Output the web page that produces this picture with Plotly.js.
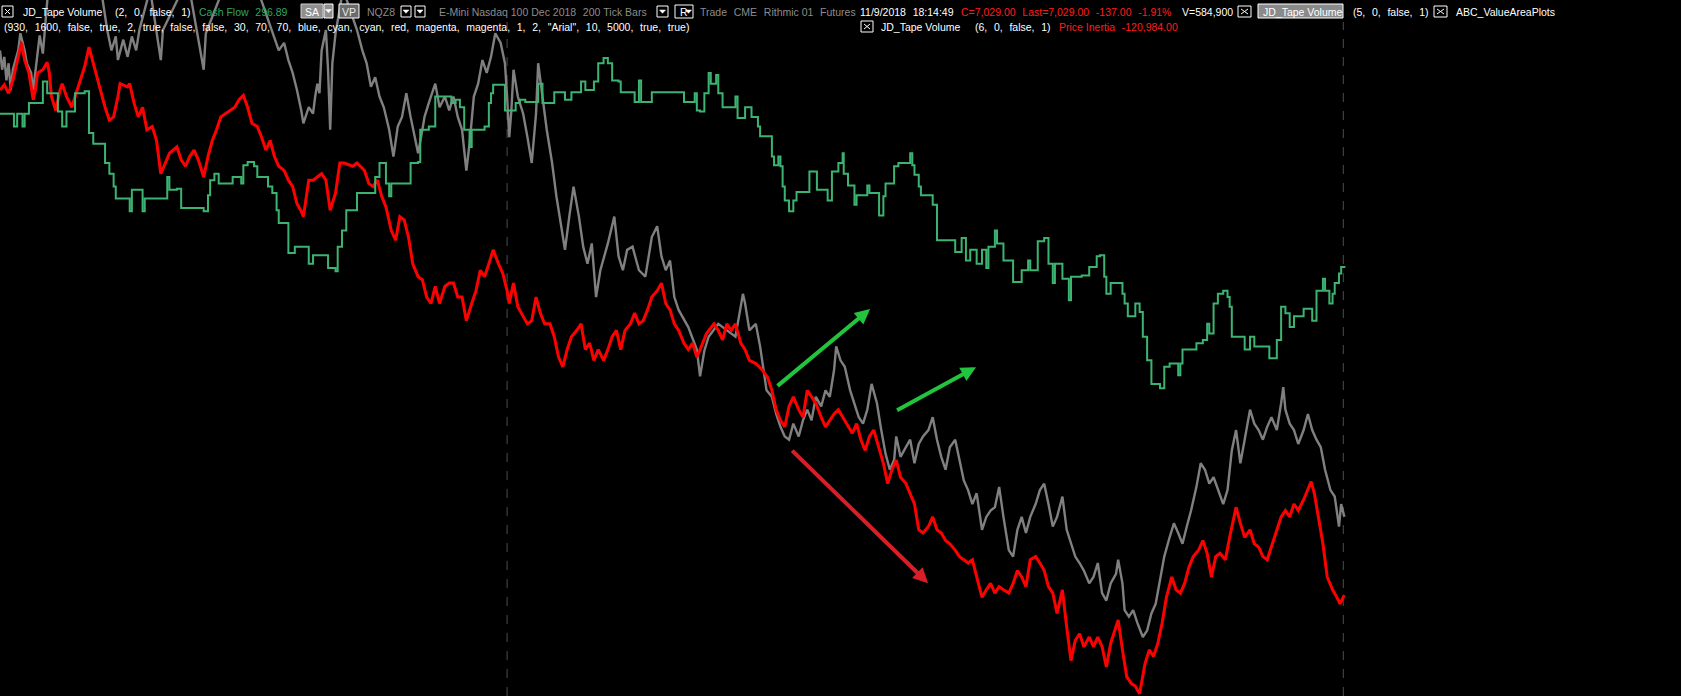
<!DOCTYPE html>
<html><head><meta charset="utf-8">
<script src="https://cdn.plot.ly/plotly-3.0.1.min.js"></script>
<style>html,body{margin:0;padding:0;background:#000;overflow:hidden}#chart{width:1681px;height:696px}</style>
</head><body><div id="chart"></div>
<script>
// ---- NQZ8 200-tick bars: price (gray) ----
const priceBar = [0,2,4,6,8,10,12,17,19,23,
25,29,31,33,35,37,40,45,55,70,
85,95,100,104,108,110,115,119,123,127,
130,140,150,152,175,190,192,210,235,256,
260,265,269,273,277,281,283,288,292,294,
296,298,300,304,306,308,310,313,320,333,
338,342,346,350,354,358,363,367,369,371,
375,379,383,388,390,394,396,400,406,410,
415,419,423,427,431,435,438,442,446,450,
454,458,462,467,471,473,475,477,479,483,
488,492,496,500,502,506,510,515,519,523,
527,531,535,540,544,548,552,556,560,567,
573,577,581,585,590,596,602,608,613,617,
621,625,629,633,642,650,653,657,661,670,
678,686,693,695,699,705,709,713,715,720,
724,728,732,736,740,745,749,753,757,761,
766,770,774,778,780,784,788,793,797,801,
805,809,813,818,822,826,830,834,836,840,
845,849,853,857,861,866,870,874,878,882,
886,891,895,899,903,907,911,916,920,924,
928,932,936,941,945,949,953,957,961,966,
970,974,978,982,986,991,995,999,1003,1007,
1011,1016,1020,1024,1028,1032,1036,1041,1043,1047,
1049,1053,1057,1061,1066,1070,1074,1078,1082,1086,
1091,1095,1099,1103,1107,1111,1116,1120,1124,1128,
1132,1136,1141,1145,1149,1153,1157,1161,1166,1170,
1174,1178,1182,1186,1191,1195,1197,1199,1203,1207,
1211,1216,1220,1224,1228,1232,1236,1241,1245,1249,
1251,1254];
const priceClose = [7246.5,7237.5,7243.5,7232.5,7240.5,7228,7237.5,7246.5,7254.5,7246.5,
7240.5,7236,7228,7237.5,7246.5,7253.5,7245,7275,7285,7277.5,
7282.5,7272.5,7256,7246.5,7253,7242,7251.5,7243.5,7253,7246.5,
7256,7275,7242,7256,7280,7237.5,7254.5,7277.5,7282.5,7253,
7246.5,7250,7242,7236,7228,7218.5,7212.5,7220,7217,7225,
7231,7226.5,7246.5,7256,7237.5,7209.5,7240.5,7254.5,7275,7256,
7246.5,7240.5,7229.5,7234,7225,7220,7209.5,7197,7204.5,7211,
7215.5,7226.5,7215.5,7203,7198.5,7209.5,7215.5,7222,7231,7220,
7225,7218.5,7225,7215.5,7209.5,7190.5,7203,7225,7231,7242,
7236,7243.5,7254.5,7250,7240.5,7225,7206,7218.5,7237.5,7225,
7217,7206,7194,7217,7240.5,7225,7209.5,7194,7178.5,7166,
7153.5,7169,7183,7169,7155,7147,7156.5,7131.5,7144,7156.5,
7169,7150.5,7144,7153.5,7155,7144,7141,7159.5,7164.5,7150.5,
7144,7148.5,7131.5,7125.5,7117.5,7107,7094.5,7106.5,7113,7119,
7116,7113,7133,7128.5,7116,7119,7108.5,7094.5,7088,7085,
7077,7071,7066.5,7065,7072.5,7066.5,7074,7079,7074,7085,
7080.5,7088,7085,7097.5,7108.5,7102,7099,7088,7082,7075.5,
7072.5,7079,7091,7082,7069.5,7058.5,7051,7055.5,7066.5,7057,
7061.5,7065,7054,7063,7066.5,7069.5,7075.5,7065,7057,7051,
7061.5,7065,7055.5,7046,7041.5,7035,7040,7023,7029,7032,
7033.5,7043,7029,7013.5,7010.5,7023,7029,7021.5,7029,7035,
7041.5,7044.5,7035,7024.5,7029,7038.5,7023,7016.5,7010.5,7007.5,
7004,6998,7001,7007.5,6993.5,6990,6998,7002.5,7009,6998,
6985.5,6982.5,6985.5,6979.5,6973,6976,6984,6988.5,6999.5,7010.5,
7019.5,7026,7021.5,7016.5,7024.5,7032,7043,7054,7051,7044.5,
7047.5,7041.5,7035,7041.5,7060,7069.5,7054,7065,7079,7072.5,
7069.5,7065,7071,7075.5,7069.5,7082,7089.5,7079,7072.5,7069.5,
7063,7069.5,7077,7069.5,7065,7061.5,7051,7041.5,7038.5,7024.5,
7035,7029];

// ---- JD_Tape Volume (6,0,false,1): Price Inertia (red) ----
const inertiaBar = [0,4,8,12,17,20,23,27,31,33,
35,40,44,46,48,52,56,58,62,67,
71,75,79,83,87,92,98,102,106,110,
112,119,121,125,129,133,137,142,146,150,
154,158,165,169,173,177,181,185,190,194,
198,202,206,210,215,219,223,227,231,235,
240,244,248,252,256,260,265,269,273,277,
281,283,288,292,300,304,308,313,317,321,
329,333,340,344,348,352,356,360,365,369,
373,377,381,385,390,394,398,402,406,410,
415,419,423,427,431,435,440,444,448,452,
456,460,465,469,473,475,479,483,488,492,
496,500,504,508,513,517,521,525,529,533,
538,542,546,550,554,558,563,567,571,575,
579,583,588,592,596,600,604,608,613,617,
621,625,629,633,638,642,646,650,653,659,
666,670,674,678,682,686,691,695,699,705,
711,716,720,724,728,732,736,740,745,749,
753,757,761,766,770,774,778,782,786,791,
795,799,803,807,811,815,820,824,828,832,
836,840,845,849,853,857,861,866,870,874,
878,882,886,891,895,899,903,907,911,916,
920,924,928,932,936,941,945,949,953,957,
961,966,970,974,978,982,986,991,995,999,
1003,1007,1011,1016,1020,1024,1028,1032,1036,1043,
1047,1051,1055,1059,1063,1068,1072,1076,1080,1084,
1088,1093,1097,1101,1105,1109,1113,1118,1122,1126,
1130,1134,1138,1143,1147,1151,1153,1157,1161,1166,
1170,1174,1178,1182,1186,1191,1195,1199,1203,1207,
1211,1216,1220,1223,1226,1230,1234,1238,1243,1247,
1250,1254];
const priceInertia = [67400,69400,66200,71000,79800,85000,78600,73800,63800,67400,
73800,75000,77800,73800,65000,59800,67400,69800,65000,61000,
66200,71000,76200,83400,77400,69800,61000,56200,57400,65000,
69800,68600,69800,62600,57400,61000,52600,53800,48600,36200,
40200,43800,46200,41400,39000,42600,45000,41400,35000,42600,
48600,52600,57400,58600,59800,61000,63800,65400,61000,55000,
53800,49800,45000,48600,42600,39000,37400,33800,31400,25000,
22200,20200,33800,33800,36200,33800,22600,29000,40200,40200,
39000,40200,37400,32600,31400,33800,27800,23800,15000,11400,
20200,19000,12600,2600,-2200,-3400,-9800,-12200,-5800,-12200,
-5800,-4600,-4600,-9800,-9800,-18600,-12200,-7400,200,-2200,
2600,7800,2600,-1000,-7400,-12200,-4600,-13400,-17000,-19800,
-18600,-9800,-15800,-19800,-19800,-24600,-32200,-35800,-29400,-24600,
-22200,-19800,-29400,-27000,-33400,-29400,-33400,-29400,-24600,-22200,
-29400,-22200,-19800,-15800,-19800,-18600,-14600,-9800,-7400,-4600,
-12200,-14600,-19800,-22200,-27000,-29400,-27000,-32200,-29400,-23400,
-19800,-22200,-25800,-19800,-22200,-19800,-27000,-29400,-33400,-34600,
-37000,-39800,-44600,-51800,-55800,-58200,-50600,-47000,-51800,-54600,
-44600,-47000,-49400,-54600,-58200,-55800,-53400,-51800,-54600,-58200,
-60600,-57000,-63000,-67000,-61800,-59400,-65800,-71800,-79400,-74200,
-70600,-77000,-79400,-83000,-87000,-96600,-97800,-95400,-91800,-96600,
-97800,-100600,-101800,-104200,-106600,-107800,-109000,-107800,-114200,-121800,
-119000,-116600,-120200,-117800,-119000,-120200,-116600,-111800,-114200,-117800,
-107800,-106600,-109000,-111800,-117800,-120200,-127800,-119000,-133000,-145400,
-137800,-135400,-140200,-136600,-140200,-136600,-140200,-147800,-139000,-130200,
-141400,-151400,-153800,-155000,-157800,-146600,-141400,-143800,-139000,-131400,
-121800,-114200,-119000,-120200,-116600,-110600,-106600,-104200,-100600,-105400,
-114200,-106600,-105400,-107800,-99400,-91800,-88200,-94200,-99400,-96600,
-101800,-103000,-106600,-107800,-103000,-96600,-91800,-89400,-91800,-87000,
-89400,-85400,-81800,-78600,-83000,-91800,-101800,-114200,-119000,-121800,
-124200,-120984];

// ---- JD_Tape Volume (2,0,false,1): Cash Flow (green, stepped) ----
const cashFlowBar = [0,13,16,21,23,27,40,44,54,58,
62,70,79,83,87,98,102,106,108,121,
123,133,135,156,158,165,169,190,194,196,
200,204,217,225,227,231,237,240,250,254,
258,260,269,275,288,292,306,313,315,319,
323,333,350,354,360,363,365,383,390,392,
400,406,421,425,429,433,438,440,452,456,
458,460,471,481,485,490,502,506,517,527,
533,542,546,554,558,563,567,571,577,579,
592,596,598,608,638,648,650,653,657,661,
663,668,670,674,686,688,695,701,707,709,
720,722,726,728,730,732,736,740,743,755,
762,772,776,782,786,787,791,797,799,809,
811,820,824,826,834,838,849,851,853,857,
859,870,874,891,897,901,905,911,916,920,
922,928,930,936,945,953,959,961,968,974,
978,982,984,991,997,999,1009,1016,1023,1026,
1030,1032,1036,1047,1049,1052,1059,1063,1066,1070,
1074,1082,1086,1091,1099,1101,1103,1116,1122,1126,
1128,1132,1136,1141,1145,1147,1149,1161,1166,1170,
1184,1191,1195,1199,1203,1207,1216,1224,1228,1234,
1236,1240,1243,1245,1249,1251,1254];
const cashFlow = [439,427,439,427,439,449,469,458,441,427,
441,458,460,421,411,393,383,371,360,348,
368,348,360,380,368,369,351,348,363,377,
383,374,380,374,391,394,390,380,371,365,
349,337,309,315,299,307,295,292,315,330,
349,365,380,393,374,362,374,393,394,424,
427,455,449,452,445,424,408,424,427,449,
458,466,442,449,452,450,467,449,459,452,
459,469,461,469,486,491,486,470,469,459,
450,470,450,459,450,458,442,441,458,477,
467,475,458,445,455,435,445,436,427,418,
399,391,399,390,371,358,348,358,366,385,
368,358,385,393,402,383,372,354,363,372,
365,344,362,374,390,393,402,391,382,371,
363,354,321,310,323,302,312,299,312,295,
315,330,318,302,282,293,302,293,320,323,
299,281,299,285,265,287,288,296,306,307,
287,271,281,271,262,250,262,254,231,209,
187,183,203,206,195,206,219,225,228,243,
234,262,271,274,268,259,231,219,231,222,
211,228,259,253,240,250,257,246,274,285,
274,262,271,281,290,296,296.89];

const sessionBreaks = [473, 1253];

// ---------------- layout helpers (pixel positioning of header) ----------------
const W = 1681, H = 696;
const px = x => x / W, py = y => 1 - y / H;
const FONT = 'Liberation Sans, Arial, sans-serif';
const FS = 10.5;
const WHITE = '#ffffff', GRAY = '#8c8c8c', RED = '#ff1c1c', GREEN = '#2fa862';
const nb = s => s.replace(/  /g, '\u00a0\u00a0\u200a').replace(/ /g, '\u00a0');
function txt(x, y, s, color, anchor) {
  return {xref:'paper', yref:'paper', x:px(x), y:py(y), xanchor:anchor||'left', yanchor:'middle',
    text:nb(s), showarrow:false, font:{family:FONT, size:FS, color:color}};
}
const shapes = [];
function rect(x0,y0,x1,y1,fill,line){
  shapes.push({type:'rect', xref:'paper', yref:'paper', x0:px(x0), x1:px(x1), y0:py(y1), y1:py(y0),
    fillcolor:fill, line:{color:line, width:1}, layer:'above'});
}
function xbox(x0,y0,x1,y1){
  rect(x0,y0,x1,y1,'#000000','#ffffff');
  shapes.push({type:'line', xref:'paper', yref:'paper', x0:px(x0+3), x1:px(x1-3), y0:py(y0+3), y1:py(y1-3), line:{color:'#ffffff', width:1}, layer:'above'});
  shapes.push({type:'line', xref:'paper', yref:'paper', x0:px(x0+3), x1:px(x1-3), y0:py(y1-3), y1:py(y0+3), line:{color:'#ffffff', width:1}, layer:'above'});
}
function tri(cx, cy, color){
  shapes.push({type:'path', xref:'paper', yref:'paper',
    path:`M ${px(cx-3)} ${py(cy-1.5)} L ${px(cx+3)} ${py(cy-1.5)} L ${px(cx)} ${py(cy+1.8)} Z`,
    fillcolor:color, line:{color:color, width:0.5}, layer:'above'});
}
function ddbox(x0,y0,x1,y1,fill){
  rect(x0,y0,x1,y1,fill||'#000000','#ffffff');
  tri((x0+x1)/2,(y0+y1)/2,'#ffffff');
}

// session separators
sessionBreaks.forEach(b => shapes.push({type:'line', xref:'x', yref:'paper', x0:b, x1:b, y0:0, y1:py(22),
  line:{color:'#4d4d4d', width:1, dash:'dash'}, layer:'below'}));

// header boxes
xbox(2,6,13,17);
rect(301,4,323,18,'#8f8f8f','#d0d0d0');
ddbox(324,4,333,18,'#8f8f8f');
rect(339,4,359,18,'#6a6a6a','#ffffff');
ddbox(401,6,411,17);
ddbox(415,6,425,17);
ddbox(657,6,668,17);
rect(675,5,693,18,'#000000','#ffffff');
tri(688.5,11.5,'#ffffff');
xbox(1238,6,1251,17);
rect(1258,4,1343,18,'#8a8a8a','#ffffff');
xbox(1434,6,1447,17);
xbox(861,21,873,32);

const R1 = 11.5, R2 = 27;
const annotations = [
  txt(21,R1,'JD_Tape Volume',WHITE),
  txt(113,R1,'(2,  0,  false,  1)',WHITE),
  txt(197,R1,'Cash Flow  296.89',GREEN),
  txt(312,R1,'SA',WHITE,'center'),
  txt(349,R1,'VP','#e8e8e8','center'),
  txt(365,R1,'NQZ8',GRAY),
  txt(437,R1,'E-Mini Nasdaq 100 Dec 2018  200 Tick Bars',GRAY),
  txt(678,R1,'R',WHITE),
  txt(698,R1,'Trade  CME  Rithmic 01  Futures',GRAY),
  txt(858,R1,'11/9/2018  18:14:49',WHITE),
  txt(959,R1,'C=7,029.00  Last=7,029.00  -137.00  -1.91%',RED),
  txt(1180,R1,'V=584,900',WHITE),
  txt(1261,R1,'JD_Tape Volume',WHITE),
  txt(1351,R1,'(5,  0,  false,  1)',WHITE),
  txt(1454,R1,'ABC_ValueAreaPlots',WHITE),
  txt(2,R2,'(930,  1600,  false,  true,  2,  true,  false,  false,  30,  70,  70,  blue,  cyan,  cyan,  red,  magenta,  magenta,  1,  2,  "Arial",  10,  5000,  true,  true)',WHITE),
  txt(879,R2,'JD_Tape Volume',WHITE),
  txt(973,R2,'(6,  0,  false,  1)',WHITE),
  txt(1057,R2,'Price Inertia  -120,984.00',RED)
];

// drawn arrows (annotations on the price scale)
function arrow(xh, yh, xt, yt, color){
  return {xref:'x', yref:'y', axref:'x', ayref:'y', x:xh, y:yh, ax:xt, ay:yt, text:'',
    showarrow:true, arrowhead:2, arrowsize:0.75, arrowwidth:4, arrowcolor:color, standoff:0, startstandoff:0};
}
annotations.push(arrow(811.6, 7125.9, 723.9, 7089.5, '#22c43e'));
annotations.push(arrow(910.4, 7098.8, 835.4, 7078.3, '#22c43e'));
annotations.push(arrow(865.7, 6998.1, 737.5, 7060.6, '#d81f28'));

const traces = [
  {x:cashFlowBar, y:cashFlow, yaxis:'y3', type:'scatter', mode:'lines', line:{color:'#3cb371', width:2, shape:'hv'}, hoverinfo:'skip'},
  {x:priceBar, y:priceClose, yaxis:'y', type:'scatter', mode:'lines', line:{color:'#808080', width:2.4}, hoverinfo:'skip'},
  {x:inertiaBar, y:priceInertia, yaxis:'y2', type:'scatter', mode:'lines', line:{color:'#ff0000', width:3}, hoverinfo:'skip'}
];

const ax = {visible:false, showgrid:false, zeroline:false, fixedrange:true};
const layout = {
  width:W, height:H, margin:{l:0,r:0,t:0,b:0,pad:0},
  paper_bgcolor:'#000000', plot_bgcolor:'#000000', showlegend:false,
  xaxis:Object.assign({range:[0,1568]}, ax),
  yaxis:Object.assign({range:[6945.5,7270]}, ax),
  yaxis2:Object.assign({range:[-158600,101000], overlaying:'y'}, ax),
  yaxis3:Object.assign({range:[-104,545], overlaying:'y'}, ax),
  shapes:shapes, annotations:annotations
};
Plotly.newPlot('chart', traces, layout, {staticPlot:true, displayModeBar:false});
</script>
</body></html>
